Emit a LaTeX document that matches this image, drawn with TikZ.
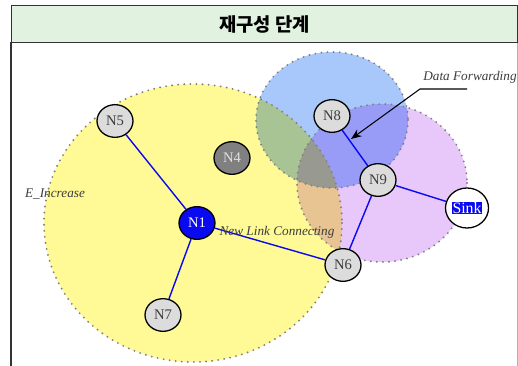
\documentclass[tikz,border=0pt]{standalone}
\usepackage{fontspec}
\setmainfont{Liberation Serif}
\newfontfamily\hangul{Noto Sans CJK KR}
\usepackage{xcolor}
\usetikzlibrary{arrows.meta, positioning, shapes.geometric}
\definecolor{headgreen}{RGB}{226, 242, 224}
\definecolor{zoneyellow}{RGB}{255, 250, 150}
\definecolor{zoneblue}{RGB}{168, 200, 252}
\definecolor{zonepurple}{RGB}{232, 200, 250}
\definecolor{nodegray}{RGB}{220, 220, 220}
\definecolor{darknode}{RGB}{128, 128, 128}
\definecolor{linkblue}{RGB}{10, 10, 240}
\definecolor{labelgray}{RGB}{60, 60, 60}

\tikzset{
  zone/.style={draw=darknode, line width=1.8pt, line cap=round, dash pattern=on 0pt off 5.2pt},
  sensor/.style={ellipse, draw=black, line width=1.1pt, fill=nodegray, text=labelgray,
    minimum width=1.08cm, minimum height=0.98cm, inner sep=0pt, font=\fontsize{12.5}{13}\selectfont},
  link/.style={draw=linkblue, line width=1.2pt},
  note/.style={font=\fontsize{11.3}{13}\selectfont\itshape, text=labelgray, inner sep=0pt},
  fwdarrow/.style={draw=black, line width=0.9pt, -{Stealth[length=9pt, width=7pt]}}
}

\begin{document}
\begin{tikzpicture}[x=0.3mm, y=-0.3mm]
  \useasboundingbox (0,0) rectangle (518,366);

  % frame and title bar
  \draw[gray!60, line width=0.6pt] (517,42) -- (517,366);
  \draw[black!80, line width=0.9pt] (11,42) -- (11,366);
  \node[draw=black!80, line width=0.9pt, fill=headgreen, minimum width=506*0.3mm, minimum height=37*0.3mm,
    inner sep=0pt, anchor=north west] (title) at (11,5) {\hangul\bfseries\fontsize{16}{18}\selectfont 재구성 단계};

  % coverage areas
  \begin{scope}[blend mode=multiply]
    \fill[zoneyellow] (193,223) ellipse [x radius=149, y radius=139];
    \fill[zoneblue] (332,120) ellipse [x radius=76, y radius=68];
    \fill[zonepurple] (382,183) ellipse [x radius=85, y radius=79];
  \end{scope}
  \draw[zone] (193,223) ellipse [x radius=149, y radius=139];
  \draw[zone] (332,120) ellipse [x radius=76, y radius=68];
  \draw[zone] (382,183) ellipse [x radius=85, y radius=79];

  % sensor nodes
  \node[sensor] (N5) at (115,121) {N5};
  \node[sensor, fill=darknode, text=white!88!black] (N4) at (232,158) {N4};
  \node[sensor, fill=linkblue, text=white] (N1) at (197,223) {N1};
  \node[sensor] (N7) at (163,315) {N7};
  \node[sensor] (N6) at (343,265) {N6};
  \node[sensor] (N8) at (332,116) {N8};
  \node[sensor] (N9) at (378,180) {N9};
  \node[sensor, fill=white, minimum width=1.26cm, minimum height=1.2cm] (sink) at (467,208)
    {\setlength\fboxsep{0.6pt}\colorbox{linkblue}{\textcolor{white}{\fontsize{13.5}{14}\selectfont Sink}}};

  % links
  \draw[link] (N5) -- (N1);
  \draw[link] (N1) -- (N7);
  \draw[link] (N1) -- (N6);
  \draw[link] (N6) -- (N9);
  \draw[link] (N9) -- (N8);
  \draw[link] (N9) -- (sink);

  % labels
  \node[note] (einc) at (55,194) {E\_Increase};
  \node[note] (newlink) at (277,232) {New Link Connecting};
  \node[note] (dflabel) at (470,77) {Data Forwarding};
  \coordinate (dfstart) at (467,89);
  \coordinate (dfknee) at (420,89);
  \coordinate (dftip) at (351,139);
  \draw[fwdarrow] (dfstart) -- (dfknee) -- (dftip);
\end{tikzpicture}
\end{document}
